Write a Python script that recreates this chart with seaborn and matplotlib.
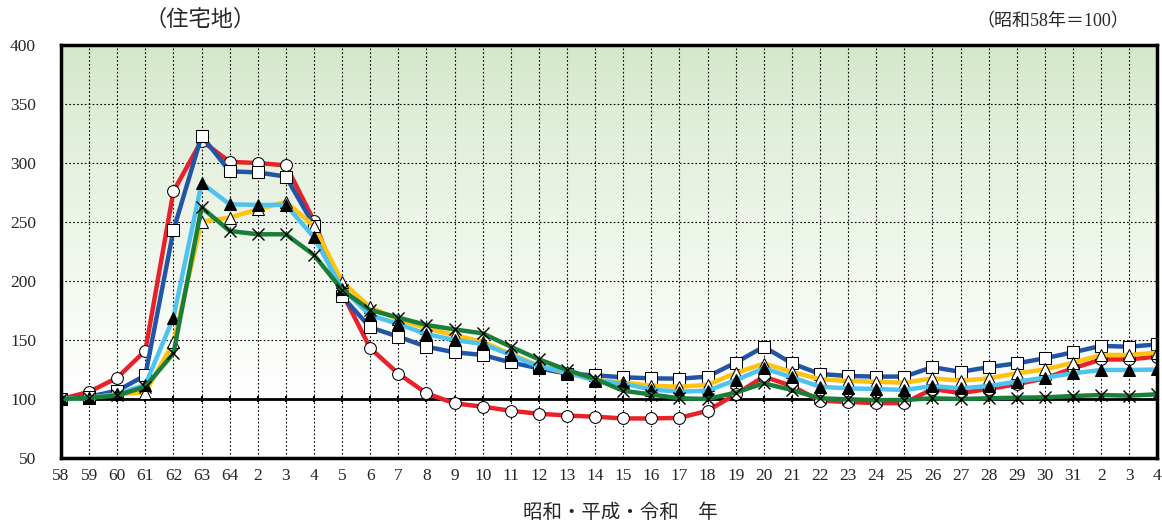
import numpy as np
import pandas as pd
import matplotlib.pyplot as plt
import seaborn as sns

sns.set_style("white")
plt.rcParams['font.family'] = ['Liberation Serif', 'Noto Sans CJK JP']

years = ['58', '59', '60', '61', '62', '63', '64'] + [str(i) for i in range(2, 32)] + ['2', '3', '4']

red = [100, 106, 118, 141, 276, 319, 301, 300, 298, 251,
       190, 143, 121.5, 104.8, 96.3, 93.5, 90, 87.5, 86, 85,
       83.5, 83.5, 84, 90, 104, 119, 111, 98.5, 97.5, 96.5,
       96.5, 108.5, 105, 108.5, 112.5, 117.5, 126, 133.5, 133.5, 136]
blue = [100, 102, 107, 120, 243, 323, 293, 292, 288.5, 247,
        187, 160.7, 152.8, 144.3, 139.6, 137.3, 131, 126, 121.5, 120,
        118.4, 117.5, 117.2, 119, 130.8, 144.3, 130.2, 121.2, 119.5, 119,
        119, 127, 123, 127, 130.2, 134.5, 139.6, 145, 144.3, 146.3]
sky = [100, 101, 104, 112, 169, 283, 265, 264.5, 264.5, 237,
       193.5, 171, 163.6, 155, 150, 146.6, 137.3, 127.4, 123, 115.5,
       113, 108, 106.2, 107, 116, 126, 118.4, 110.4, 109, 108.5,
       107.6, 111, 109, 111, 114.7, 118, 121.8, 124.6, 124.6, 125]
yellow = [100, 101, 104, 105.5, 148, 250.3, 253.7, 260.7, 267, 246.6,
          199.4, 177.7, 167.5, 160, 154, 148.6, 138, 128.3, 121.8, 116,
          114, 111.3, 110.4, 112, 122, 130, 123, 116.7, 115.3, 114.7,
          113.8, 117.5, 115.5, 117.5, 121.8, 125, 130.8, 137.3, 137.3, 139.3]
green = [100, 101, 103, 110.4, 138.7, 262.4, 242.4, 239.6, 239.6, 222,
         192.4, 175.4, 169, 162.7, 159, 155.6, 144.3, 133.6, 124.6, 117,
         107, 103.8, 100.6, 100, 105.4, 113.3, 107.6, 100.6, 99.7, 99,
         99.2, 100.6, 100, 100.6, 101.1, 101.4, 102.5, 103.4, 102.8, 104]

x = np.arange(len(years))

series = [
    (red, '#e8212a', dict(marker='o', markerfacecolor='white', markeredgecolor='black')),
    (blue, '#2355a6', dict(marker='s', markerfacecolor='white', markeredgecolor='black')),
    (yellow, '#ffc20e', dict(marker='^', markerfacecolor='white', markeredgecolor='black')),
    (sky, '#4fc3ef', dict(marker='^', markerfacecolor='black', markeredgecolor='black')),
    (green, '#1b7d3a', dict(marker='x', markeredgecolor='black', markeredgewidth=1.0)),
]

fig = plt.figure(figsize=(11.62, 5.26), dpi=100)
ax = fig.add_axes([0.0525, 0.1293, 0.9435, 0.7851])

# background gradient: green at top fading to white at 100
top = np.array([211, 231, 200]) / 255
grad = np.linspace(0, 1, 256)[:, None] ** 0.8
img = top[None, None, :] * (1 - grad[:, :, None]) + np.ones(3)[None, None, :] * grad[:, :, None]
ax.imshow(img, extent=[x[0], x[-1], 100, 400], origin='upper', aspect='auto', zorder=0)

for vals, col, mk in series:
    sns.lineplot(x=x, y=vals, ax=ax, color=col, linewidth=3.2, markersize=8.5, zorder=3, **mk)

ax.axhline(100, color='black', lw=2, zorder=2.5)
ax.plot(x, np.full(len(x), 100), ls='none', marker='|', color='black', markersize=5, mew=1.5, zorder=2.6)

ax.set_xlim(x[0], x[-1])
ax.set_ylim(50, 400)
ax.set_yticks(range(50, 401, 50))
ax.set_xticks(x)
ax.set_xticklabels(years)
ax.tick_params(axis='both', length=0, labelsize=12.5)
ax.tick_params(axis='x', pad=7)
ax.tick_params(axis='y', pad=18)

ax.grid(True, color='black', linestyle=(0, (1.5, 2)), linewidth=0.8, zorder=1)
ax.set_axisbelow(False)
for gl in ax.get_xgridlines() + ax.get_ygridlines():
    gl.set_zorder(1)
for s in ax.spines.values():
    s.set_linewidth(2.5)
    s.set_color('black')
    s.set_zorder(4)

fig.text(0.172, 0.962, '（住宅地）', fontsize=16, ha='center', va='center')
fig.text(0.972, 0.958, '（昭和58年＝100）', fontsize=13, ha='right', va='center')
fig.text(0.534, 0.025, '昭和・平成・令和　年', fontsize=14, ha='center', va='center')

fig.savefig('out.png', dpi=100)
